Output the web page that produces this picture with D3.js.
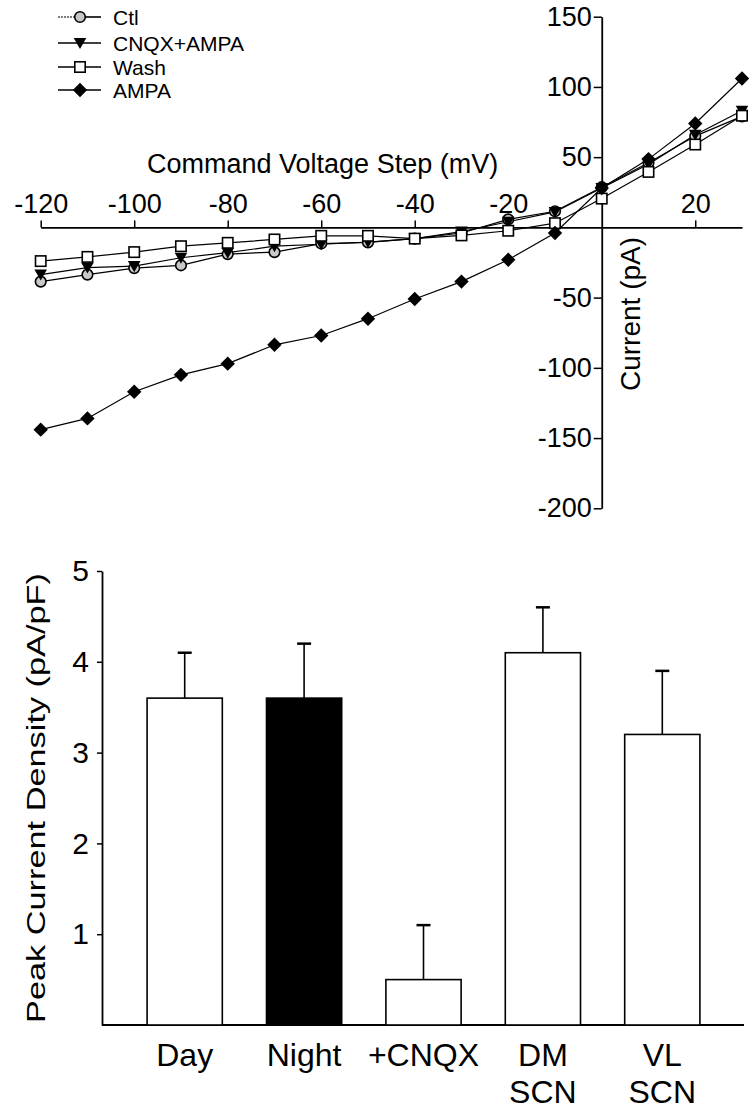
<!DOCTYPE html>
<html><head><meta charset="utf-8">
<script src="https://cdn.jsdelivr.net/npm/d3@7"></script>
<style>
body{margin:0;background:#fff}
svg{display:block}
text{font-family:"Liberation Sans",Arial,Helvetica,sans-serif;fill:#000}
</style>
</head><body>
<svg id="c" width="750" height="1109"></svg>
<script>
// ---------- Data: I-V curves ----------
const voltages = [-120,-110,-100,-90,-80,-70,-60,-50,-40,-30,-20,-10,0,10,20,30];
const ctl      = [-38.6,-33.6,-29,-27,-19,-17.6,-11.5,-10.7,-8,-4,5.7,11.5,28.6,46,65,79];
const cnqxAmpa = [-33.6,-28.6,-27.6,-21.6,-18,-13.4,-12,-10.5,-8,-3,4,11,28,45,66,83];
const wash     = [-24,-21,-17.6,-13.4,-11,-8.6,-6,-6,-8,-5.7,-2.4,3,20.5,39.5,59,79.5];
const ampa     = [-144,-136,-117,-105,-97,-83.6,-77,-65,-51,-38.6,-23,-4,28,48.6,74,106];
const seriesNames = ["Ctl","CNQX+AMPA","Wash","AMPA"];
const xTickValues = [-120,-100,-80,-60,-40,-20,20];
const yTickValues = [-200,-150,-100,-50,50,100,150];

// ---------- Data: bar chart ----------
const barCategories = ["Day","Night","+CNQX","DM SCN","VL SCN"];
const barLabelLines = [["Day"],["Night"],["+CNQX"],["DM","SCN"],["VL","SCN"]];
const barValues = [3.6,3.6,0.5,4.1,3.2];
const barErrors = [0.5,0.6,0.6,0.5,0.7];
const barTickValues = [1,2,3,4,5];

const svg = d3.select("#c");
const fmt = d => String(d);

// ================= TOP: I-V plot =================
const x = d3.scaleLinear().domain([-120,30]).range([40.7,742]);
const y = d3.scaleLinear().domain([-200,150]).range([508.3,16.7]);

const gx = svg.append("g").attr("transform",`translate(0,${y(0)})`)
  .call(d3.axisTop(x).tickValues(xTickValues).tickFormat(fmt).tickSize(7).tickPadding(7).tickSizeOuter(0));
gx.selectAll("text").attr("font-size",27).attr("font-family","Liberation Sans, Arial, sans-serif");
gx.select(".domain").attr("stroke-width",1.8);
gx.selectAll(".tick line").attr("stroke-width",1.5);

const gy = svg.append("g").attr("transform",`translate(${x(0)},0)`)
  .call(d3.axisLeft(y).tickValues(yTickValues).tickFormat(fmt).tickSize(8).tickPadding(2).tickSizeOuter(0));
gy.selectAll("text").attr("font-size",27).attr("font-family","Liberation Sans, Arial, sans-serif");
gy.select(".domain").attr("stroke-width",1.8);
gy.selectAll(".tick line").attr("stroke-width",1.5);

svg.append("text").attr("x",147).attr("y",173).attr("font-size",27)
  .text("Command Voltage Step (mV)");
svg.append("text").attr("transform",`translate(640,314) rotate(-90)`)
  .attr("text-anchor","middle").attr("font-size",28).text("Current (pA)");

const allSeries = [ctl, cnqxAmpa, wash, ampa];
const line = d3.line().x((d,i)=>x(voltages[i])).y(d=>y(d));

function marker(g, type, cx, cy){
  if(type===0){
    g.append("circle").attr("cx",cx).attr("cy",cy).attr("r",5.3)
      .attr("fill","#c8c8c8").attr("stroke","#000").attr("stroke-width",1.6);
  } else if(type===1){
    const s=6.3;
    g.append("path").attr("d",`M${cx-s},${cy-s*0.8}L${cx+s},${cy-s*0.8}L${cx},${cy+s*0.95}Z`)
      .attr("fill","#000");
  } else if(type===2){
    const s=5.2;
    g.append("rect").attr("x",cx-s).attr("y",cy-s).attr("width",2*s).attr("height",2*s)
      .attr("fill","#fff").attr("stroke","#000").attr("stroke-width",1.6);
  } else {
    const s=7.2;
    g.append("path").attr("d",`M${cx},${cy-s}L${cx+s},${cy}L${cx},${cy+s}L${cx-s},${cy}Z`)
      .attr("fill","#000");
  }
}

const plot = svg.append("g");
allSeries.forEach(s=>{
  plot.append("path").attr("d",line(s)).attr("fill","none").attr("stroke","#000").attr("stroke-width",1.2);
});
allSeries.forEach((s,k)=>{
  s.forEach((v,i)=>marker(plot,k,x(voltages[i]),y(v)));
});

// legend
const legend = svg.append("g");
const legY = [17,43,67,90];
seriesNames.forEach((n,k)=>{
  const ly = legY[k];
  if(k===0){
    legend.append("line").attr("x1",58).attr("x2",78).attr("y1",ly).attr("y2",ly)
      .attr("stroke","#000").attr("stroke-width",1.2).attr("stroke-dasharray","2,1");
    legend.append("line").attr("x1",78).attr("x2",101).attr("y1",ly).attr("y2",ly)
      .attr("stroke","#000").attr("stroke-width",1.6);
  } else {
    legend.append("line").attr("x1",58).attr("x2",101).attr("y1",ly).attr("y2",ly)
      .attr("stroke","#000").attr("stroke-width",1.6);
  }
  marker(legend,k,80,ly);
  legend.append("text").attr("x",113).attr("y",ly+7.5).attr("font-size",21).text(n);
});

// ================= BOTTOM: bar chart =================
const xb = d3.scaleBand().domain(barCategories).range([125,722]).paddingInner(0.37).paddingOuter(0.185);
const yb = d3.scaleLinear().domain([0,5]).range([1025,571]);
const bw = xb.bandwidth();

const gyb = svg.append("g").attr("transform","translate(102,0)")
  .call(d3.axisLeft(yb).tickValues(barTickValues).tickFormat(fmt).tickSize(5).tickPadding(8).tickSizeOuter(0));
gyb.selectAll("text").attr("font-size",30).attr("font-family","Liberation Sans, Arial, sans-serif");
gyb.select(".domain").attr("stroke-width",1.8);
gyb.selectAll(".tick line").attr("stroke-width",1.5);

svg.append("line").attr("x1",102).attr("x2",744).attr("y1",yb(0)).attr("y2",yb(0))
  .attr("stroke","#000").attr("stroke-width",2);

const bars = svg.append("g");
barCategories.forEach((c,i)=>{
  const cx = xb(c)+bw/2;
  bars.append("line").attr("x1",cx).attr("x2",cx).attr("y1",yb(barValues[i])).attr("y2",yb(barValues[i]+barErrors[i]))
    .attr("stroke","#000").attr("stroke-width",1.6);
  bars.append("line").attr("x1",cx-7).attr("x2",cx+7).attr("y1",yb(barValues[i]+barErrors[i])).attr("y2",yb(barValues[i]+barErrors[i]))
    .attr("stroke","#000").attr("stroke-width",2.5);
  bars.append("rect").attr("x",xb(c)).attr("y",yb(barValues[i])).attr("width",bw)
    .attr("height",yb(0)-yb(barValues[i]))
    .attr("fill",c==="Night"?"#000":"#fff").attr("stroke","#000").attr("stroke-width",1.6);
  barLabelLines[i].forEach((t,j)=>{
    svg.append("text").attr("x",cx).attr("y",1066+j*37).attr("text-anchor","middle")
      .attr("font-size",32).text(t);
  });
});

svg.append("text").attr("transform","translate(45,798) rotate(-90)")
  .attr("text-anchor","middle").attr("font-size",25)
  .attr("textLength",450).attr("lengthAdjust","spacingAndGlyphs")
  .text("Peak Current Density (pA/pF)");
</script>
</body></html>
